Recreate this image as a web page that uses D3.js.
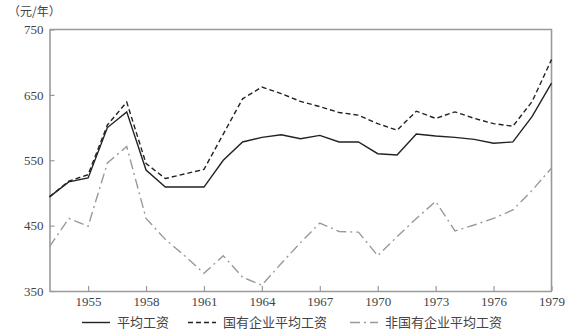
<!DOCTYPE html>
<html>
<head>
<meta charset="utf-8">
<script src="https://cdn.jsdelivr.net/npm/d3@7"></script>
<style>
  body { margin: 0; background: #fff; }
  svg { display: block; }
</style>
</head>
<body>
<svg width="579" height="336"></svg>
<script>
// years and wage series (yuan / year)
const years = d3.range(1953, 1980);
const avgWage = [494, 517, 523, 600, 624, 535, 509, 509, 509, 550, 578, 585, 589, 583, 588, 578, 578, 560, 558, 590, 587, 585, 582, 576, 578, 617, 668];
const stateWage = [494, 518, 528, 604, 639, 545, 522, 529, 536, 590, 644, 662, 652, 640, 632, 623, 619, 606, 596, 625, 614, 624, 614, 606, 602, 640, 704];
const nonStateWage = [418, 461, 449, 546, 571, 461, 429, 404, 377, 404, 371, 359, 392, 424, 454, 441, 440, 404, 433, 461, 487, 442, 451, 461, 474, 504, 538];
const xTicks = [1955, 1958, 1961, 1964, 1967, 1970, 1973, 1976, 1979];
const yTicks = [350, 450, 550, 650, 750];
const seriesNames = ['平均工资', '国有企业平均工资', '非国有企业平均工资'];

const svg = d3.select('svg');
const plotLeft = 49.5, plotRight = 551.5, plotTop = 29.5, plotBottom = 291;
const serif = '"Liberation Serif", "DejaVu Serif", "Times New Roman", serif';
const cjk = '"Noto Sans CJK SC", sans-serif';

const x = d3.scaleLinear().domain([1953, 1979]).range([plotLeft, plotRight]);
const y = d3.scaleLinear().domain([350, 750]).range([plotBottom, plotTop]);

const axisColor = '#9a9a9a';

// frame top & right
svg.append('path')
  .attr('d', `M${plotLeft},${plotTop}H${plotRight}V${plotBottom}`)
  .attr('fill', 'none')
  .attr('stroke', axisColor)
  .attr('stroke-width', 1.6);

const xAxis = d3.axisBottom(x).tickValues(xTicks).tickFormat(d3.format('d'))
  .tickSizeInner(-5).tickSizeOuter(0).tickPadding(10);
const yAxis = d3.axisLeft(y).tickValues(yTicks)
  .tickSizeInner(-5).tickSizeOuter(0).tickPadding(10);

const gx = svg.append('g').attr('transform', `translate(0,${plotBottom})`).call(xAxis);
const gy = svg.append('g').attr('transform', `translate(${plotLeft},0)`).call(yAxis);
[gx, gy].forEach((g) => {
  g.attr('font-family', serif).attr('font-size', 13);
  g.select('.domain').attr('stroke', axisColor).attr('stroke-width', 1.6);
  g.selectAll('.tick line').attr('stroke', axisColor).attr('stroke-width', 1.2);
  g.selectAll('.tick text').attr('fill', '#444');
});
gx.selectAll('.tick text').attr('dy', '0.35em').attr('y', 10);
gy.selectAll('.tick text').attr('x', -6);

svg.append('text')
  .attr('x', 8).attr('y', 16)
  .attr('font-family', cjk).attr('font-size', 12).attr('fill', '#444')
  .text('（元/年）');

const styles = [
  { stroke: '#222', dash: null, width: 1.4 },
  { stroke: '#222', dash: '5,3', width: 1.4 },
  { stroke: '#999', dash: '10,4,2,4', width: 1.4 },
];
const allSeries = [avgWage, stateWage, nonStateWage];

const line = d3.line().x((d, i) => x(years[i])).y((d) => y(d));

allSeries.forEach((s, k) => {
  svg.append('path')
    .datum(s)
    .attr('d', line)
    .attr('fill', 'none')
    .attr('stroke', styles[k].stroke)
    .attr('stroke-width', styles[k].width)
    .attr('stroke-dasharray', styles[k].dash);
});

// legend
const legendX = [82, 188, 350];
const legend = svg.append('g')
  .attr('font-family', cjk).attr('font-size', 13).attr('fill', '#444');
seriesNames.forEach((name, k) => {
  const g = legend.append('g').attr('transform', `translate(${legendX[k]},322.5)`);
  g.append('line')
    .attr('x1', 0).attr('x2', 28)
    .attr('stroke', styles[k].stroke)
    .attr('stroke-width', styles[k].width)
    .attr('stroke-dasharray', styles[k].dash);
  g.append('text').attr('x', 35).attr('dy', '0.35em').text(name);
});
</script>
</body>
</html>
